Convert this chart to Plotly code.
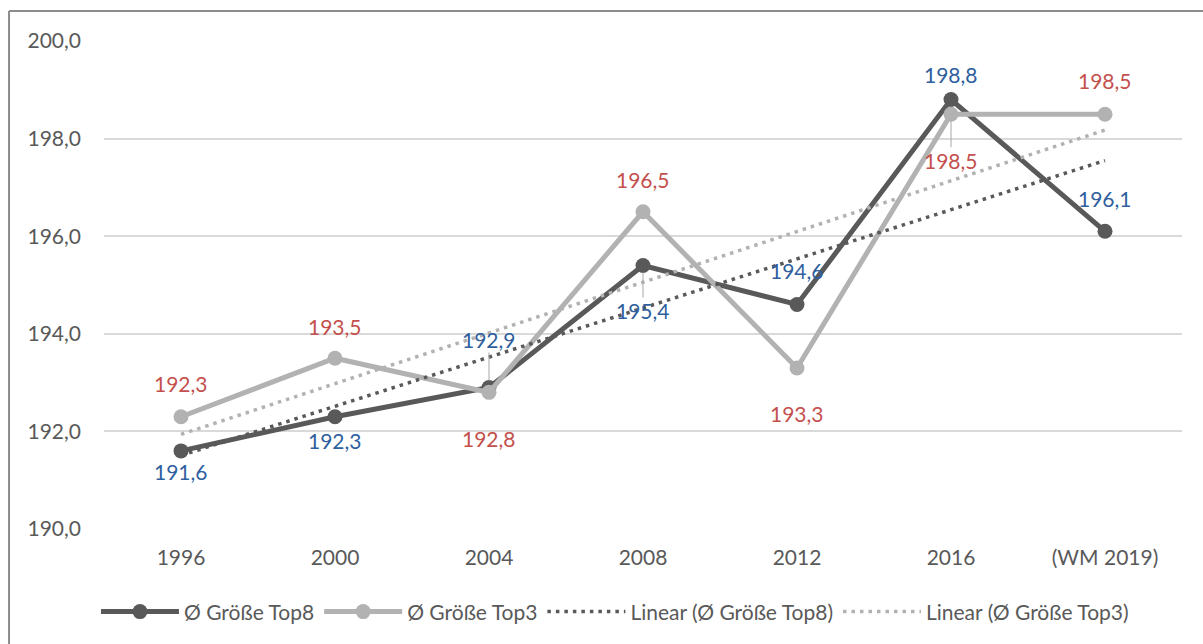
import numpy as np
import plotly.graph_objects as go

# Categories and series values
years = ["1996", "2000", "2004", "2008", "2012", "2016", "(WM 2019)"]
top8 = [191.6, 192.3, 192.9, 195.4, 194.6, 198.8, 196.1]
top3 = [192.3, 193.5, 192.8, 196.5, 193.3, 198.5, 198.5]
y_ticks = [190, 192, 194, 196, 198, 200]

# Label placement (pixel offsets, positive = below the point) and which labels get a leader line
top8_offsets = [21, 24, -48, 45, -34, -25, -33]
top8_leaders = [False, False, True, True, False, False, False]
top3_offsets = [-33, -32, 46, -32, 46, 46, -34]
top3_leaders = [False, False, False, False, False, True, False]

FONT = "Lato"
DARK = "#595959"
LIGHT = "#b2b2b2"
BLUE = "#2f5f9e"
RED = "#c4504e"
TEXT = "#595959"

x = list(range(len(years)))


def trend(vals):
    k, d = np.polyfit(x, vals, 1)
    return [k * xi + d for xi in x]


fig = go.Figure()
fig.add_trace(go.Scatter(
    x=x, y=top8, mode="lines+markers", name="Ø Größe Top8",
    line=dict(color=DARK, width=5), marker=dict(size=15, color=DARK)))
fig.add_trace(go.Scatter(
    x=x, y=top3, mode="lines+markers", name="Ø Größe Top3",
    line=dict(color=LIGHT, width=5), marker=dict(size=15, color=LIGHT)))
fig.add_trace(go.Scatter(
    x=x, y=trend(top8), mode="lines", name="Linear (Ø Größe Top8)",
    line=dict(color=DARK, width=3.5, dash="3.5px,5px")))
fig.add_trace(go.Scatter(
    x=x, y=trend(top3), mode="lines", name="Linear (Ø Größe Top3)",
    line=dict(color=LIGHT, width=3.5, dash="3.5px,5px")))


def fmt(v):
    return f"{v:.1f}".replace(".", ",")


def add_labels(vals, offsets, leaders, color):
    for xi, v, dy, lead in zip(x, vals, offsets, leaders):
        common = dict(x=xi, y=v, xref="x", yref="y", text=fmt(v),
                      font=dict(family=FONT, size=21, color=color))
        if lead:
            fig.add_annotation(**common, showarrow=True, ax=0, ay=dy,
                               arrowhead=0, arrowwidth=1, arrowcolor="#a6a6a6",
                               standoff=7, borderpad=0)
        else:
            fig.add_annotation(**common, showarrow=False, yshift=-dy)


add_labels(top8, top8_offsets, top8_leaders, BLUE)
add_labels(top3, top3_offsets, top3_leaders, RED)

# Chart frame (top and left edges)
fig.add_shape(type="line", xref="paper", yref="paper",
              x0=-0.0881, x1=1.2, y0=1.0615, y1=1.0615,
              line=dict(color="#8c8c8c", width=2))
fig.add_shape(type="line", xref="paper", yref="paper",
              x0=-0.0881, x1=-0.0881, y0=-0.3, y1=1.0615,
              line=dict(color="#8c8c8c", width=2))

fig.update_layout(
    width=1203, height=644,
    margin=dict(l=104, r=21, t=41, b=115),
    paper_bgcolor="white", plot_bgcolor="white",
    separators=", ",
    font=dict(family=FONT, size=21, color=TEXT),
    showlegend=True,
    legend=dict(orientation="h", x=0.474, xanchor="center", y=-0.17,
                yanchor="middle", font=dict(family=FONT, size=21, color=TEXT),
                itemwidth=78, traceorder="normal"),
)
fig.update_xaxes(
    range=[-0.5, len(years) - 0.5], tickvals=x, ticktext=years,
    showgrid=False, zeroline=False, showline=False, ticks="",
    ticklabelstandoff=14, tickfont=dict(family=FONT, size=21, color=TEXT))
fig.update_yaxes(
    range=[190, 200], tickvals=y_ticks, tickformat=".1f",
    showgrid=True, gridcolor="#d9d9d9", gridwidth=1.5, zeroline=False,
    showline=False, ticks="", ticklabelstandoff=22,
    tickfont=dict(family=FONT, size=21, color=TEXT))

fig.write_html("out.html")
